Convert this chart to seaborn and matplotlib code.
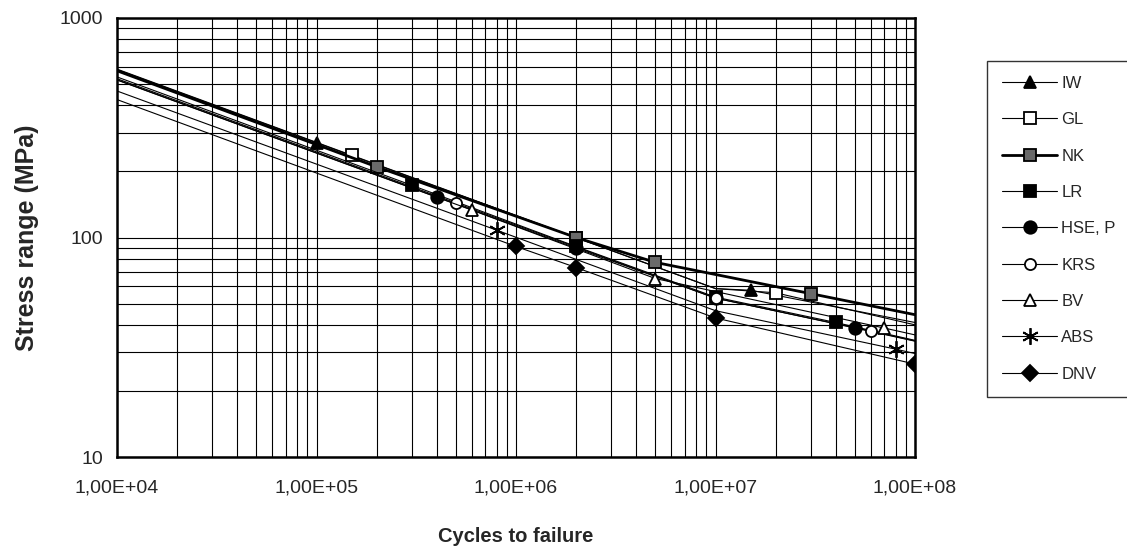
import matplotlib
matplotlib.use('Agg')
import matplotlib.pyplot as plt
from matplotlib.ticker import LogLocator, FuncFormatter, NullFormatter
import seaborn as sns

# S-N curves: cycles to failure / stress range (MPa)
iw_n = [1e4, 1e5, 1e7, 1.5e7, 1e8]
iw_s = [582, 270, 58.5, 57.5, 41]
gl_n = [1e4, 1.5e5, 2e6, 1e7, 2e7, 1e8]
gl_s = [585, 237, 100, 58.5, 56, 40]
nk_n = [1e4, 2e5, 2e6, 5e6, 3e7, 1e8]
nk_s = [575, 210, 100, 77, 55.5, 44.5]
lr_n = [1e4, 3e5, 2e6, 1e7, 4e7, 1e8]
lr_s = [539, 173, 91, 53.5, 41, 34]
hse_n = [1e4, 4e5, 2e6, 1e7, 5e7, 1e8]
hse_s = [523, 153, 89.5, 53, 38.7, 33.7]
krs_n = [1e4, 5e5, 1e7, 6e7, 1e8]
krs_s = [529, 143.6, 52.9, 37.5, 33.8]
bv_n = [1e4, 6e5, 5e6, 7e7, 1e8]
bv_s = [522, 133.4, 65, 38.7, 36]
abs_n = [1e4, 8e5, 1e7, 8e7, 1e8]
abs_s = [465, 108, 46.4, 31, 29.6]
dnv_n = [1e4, 1e6, 2e6, 1e7, 1e8]
dnv_s = [425, 91, 73, 43, 26.5]

names = ['IW', 'GL', 'NK', 'LR', 'HSE, P', 'KRS', 'BV', 'ABS', 'DNV']
# which points carry a marker
marks = [[1, 3], [1, 2, 4], [1, 2, 3, 4], [1, 2, 3, 4], [1, 2, 3, 4], [1, 2, 3], [1, 2, 3], [1, 3], [1, 2, 3, 4]]

series = [(iw_n, iw_s), (gl_n, gl_s), (nk_n, nk_s), (lr_n, lr_s), (hse_n, hse_s),
          (krs_n, krs_s), (bv_n, bv_s), (abs_n, abs_s), (dnv_n, dnv_s)]
styles = [
    dict(marker='^', markerfacecolor='black', markersize=9, linewidth=0.8),
    dict(marker='s', markerfacecolor='white', markersize=9, linewidth=0.8),
    dict(marker='s', markerfacecolor='#6a6a6a', markersize=9, linewidth=2.0),
    dict(marker='s', markerfacecolor='black', markersize=9, linewidth=0.8),
    dict(marker='o', markerfacecolor='black', markersize=9, linewidth=0.8),
    dict(marker='o', markerfacecolor='white', markersize=8, linewidth=0.8),
    dict(marker='^', markerfacecolor='white', markersize=8, linewidth=0.8),
    dict(marker=(6, 2, 0), markerfacecolor='black', markersize=12, linewidth=0.8),
    dict(marker='D', markerfacecolor='black', markersize=8, linewidth=0.8),
]

sns.set_style('white')
plt.rcParams['font.family'] = ['Liberation Sans', 'DejaVu Sans']

fig = plt.figure(figsize=(11.27, 5.5), dpi=100)
ax = fig.add_axes([117 / 1127, 1 - 457 / 550, (915 - 117) / 1127, (457 - 18) / 550])
ax.set_xscale('log')
ax.set_yscale('log')

for (n, s), name, st, mk in zip(series, names, styles, marks):
    sns.lineplot(x=n, y=s, ax=ax, color='black', estimator=None, sort=False,
                 markevery=mk, markeredgecolor='black', markeredgewidth=1.3,
                 label=name, legend=False, **st)

ax.set_xlim(1e4, 1e8)
ax.set_ylim(10, 1000)

ax.xaxis.set_major_locator(LogLocator(base=10, numticks=10))
ax.xaxis.set_minor_locator(LogLocator(base=10, subs=range(2, 10), numticks=50))
ax.yaxis.set_major_locator(LogLocator(base=10, numticks=10))
ax.yaxis.set_minor_locator(LogLocator(base=10, subs=range(2, 10), numticks=50))
ax.xaxis.set_major_formatter(FuncFormatter(lambda v, p: f'{v:.2E}'.replace('.', ',')))
ax.yaxis.set_major_formatter(FuncFormatter(lambda v, p: f'{v:g}'))
ax.xaxis.set_minor_formatter(NullFormatter())
ax.yaxis.set_minor_formatter(NullFormatter())

ax.grid(True, which='both', color='black', linewidth=0.8)
ax.set_axisbelow(True)
for sp in ax.spines.values():
    sp.set_color('black')
    sp.set_linewidth(1.8)

ax.tick_params(axis='both', which='major', direction='out', length=4, width=1,
               color='black', labelsize=14, pad=12)
ax.tick_params(axis='y', which='major', pad=6)
ax.tick_params(axis='both', which='minor', length=0)

ax.set_xlabel('Cycles to failure', fontsize=14.5, fontweight='bold', labelpad=22)
ax.set_ylabel('Stress range (MPa)', fontsize=18, fontweight='bold', labelpad=15)

handles, labels = ax.get_legend_handles_labels()
leg = fig.legend(handles, labels, loc='upper left', bbox_to_anchor=(987 / 1127, 1 - 61 / 550),
                 borderaxespad=0, frameon=True, fancybox=False, edgecolor='black', fontsize=12,
                 handlelength=3.3, labelspacing=1.28, borderpad=0.9, handletextpad=0.25)
leg.get_frame().set_linewidth(1.0)

fig.savefig('out.png', dpi=100)
